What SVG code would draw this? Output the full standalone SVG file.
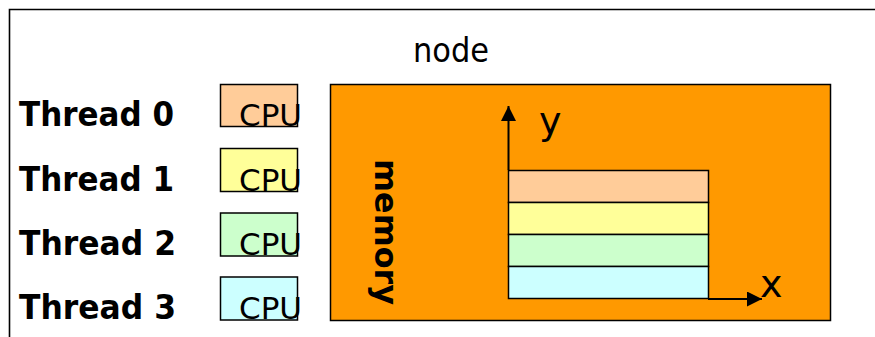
<svg xmlns="http://www.w3.org/2000/svg" width="875" height="337" viewBox="0 0 875 337">
<style>
.thr{font-family:"DejaVu Sans",Verdana,sans-serif;font-weight:bold;font-size:33px;fill:#000}
.cpu{font-family:"DejaVu Sans",Verdana,sans-serif;font-size:31px;fill:#000}
.box{stroke:#000;stroke-width:1.5}
.lbl{font-family:"DejaVu Sans",Verdana,sans-serif;fill:#000}
</style>
<defs>
<marker id="ah" viewBox="0 0 10 10" refX="10" refY="5" markerWidth="7.5" markerHeight="7.5" markerUnits="strokeWidth" orient="auto">
<path d="M0,0 L10,5 L0,10 z" fill="#000"/>
</marker>
</defs>
<rect width="875" height="337" fill="#fff"/>
<g id="frame"><path d="M9.5,337 V9.5 H875" fill="none" stroke="#000" stroke-width="1.6"/></g>
<g id="node-label"><text class="lbl" x="413" y="62" font-size="33" textLength="76" lengthAdjust="spacingAndGlyphs">node</text></g>
<g id="thread0"><text class="thr" x="19" y="126" textLength="155" lengthAdjust="spacingAndGlyphs">Thread 0</text></g>
<g id="thread1"><text class="thr" x="19" y="191" textLength="155" lengthAdjust="spacingAndGlyphs">Thread 1</text></g>
<g id="thread2"><text class="thr" x="19" y="255" textLength="157" lengthAdjust="spacingAndGlyphs">Thread 2</text></g>
<g id="thread3"><text class="thr" x="19" y="319" textLength="157" lengthAdjust="spacingAndGlyphs">Thread 3</text></g>
<g id="cpu0"><rect class="box" x="220.5" y="84.5" width="77" height="42" fill="#FFCC99"/><text class="cpu" x="239" y="125.5">CPU</text></g>
<g id="cpu1"><rect class="box" x="220.5" y="148.5" width="77" height="43" fill="#FFFF99"/><text class="cpu" x="239" y="190.5">CPU</text></g>
<g id="cpu2"><rect class="box" x="220.5" y="213" width="77" height="43" fill="#CCFFCC"/><text class="cpu" x="239" y="254.5">CPU</text></g>
<g id="cpu3"><rect class="box" x="220.5" y="277" width="77" height="43" fill="#CCFFFF"/><text class="cpu" x="239" y="319">CPU</text></g>
<g id="memory"><rect class="box" x="330.5" y="84.5" width="500" height="236" fill="#FF9900"/>
<text class="lbl" font-weight="bold" font-size="32" transform="translate(375,159) rotate(90)" textLength="146" lengthAdjust="spacingAndGlyphs">memory</text></g>
<g id="bars">
<rect class="box" x="508.5" y="170.5" width="200" height="32" fill="#FFCC99"/>
<rect class="box" x="508.5" y="202.5" width="200" height="32" fill="#FFFF99"/>
<rect class="box" x="508.5" y="234.5" width="200" height="32" fill="#CCFFCC"/>
<rect class="box" x="508.5" y="266.5" width="200" height="32" fill="#CCFFFF"/>
</g>
<g id="connectors">
<line x1="508.5" y1="170" x2="508.5" y2="106" stroke="#000" stroke-width="2" marker-end="url(#ah)"/>
<line x1="708" y1="299" x2="762" y2="299" stroke="#000" stroke-width="2" marker-end="url(#ah)"/>
</g>
<g id="axis-labels">
<text class="lbl" x="539" y="134" font-size="38">y</text>
<text class="lbl" x="760" y="297" font-size="38">x</text>
</g>
</svg>
